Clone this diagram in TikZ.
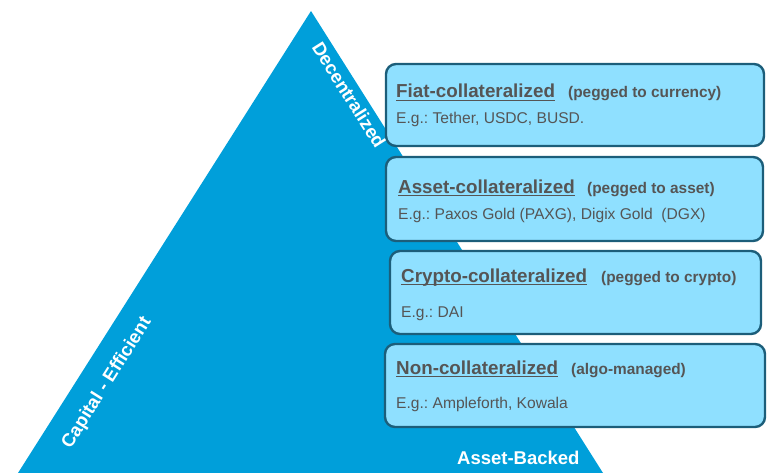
\documentclass[tikz,border=0pt]{standalone}
\usepackage{fontspec}
\setmainfont{Liberation Sans}
\frenchspacing
\definecolor{triblue}{HTML}{009FDA}
\definecolor{boxfill}{HTML}{8FE0FF}
\definecolor{boxline}{HTML}{1C5E7A}
\definecolor{txtgrey}{HTML}{555555}
\newcommand\myul[1]{{\setbox0\hbox{#1}\rlap{\rule[-3.4pt]{\wd0}{1.7pt}}\box0}}
\tikzset{
  tierbox/.style={draw=boxline, line width=2.4pt, fill=boxfill, rounded corners=10pt},
  title/.style={anchor=base west, inner sep=0pt, text=txtgrey, font=\fontsize{18.8}{21}\selectfont\bfseries},
  sub/.style={anchor=base west, inner sep=0pt, text=txtgrey, font=\fontsize{15.4}{18}\selectfont\bfseries},
  eg/.style={anchor=base west, inner sep=0pt, text=txtgrey, font=\fontsize{15.6}{18}\selectfont},
  wlabel/.style={inner sep=0pt, text=white, font=\fontsize{18.5}{21}\selectfont\bfseries}
}
\begin{document}
\frenchspacing
\begin{tikzpicture}[x=1pt,y=-1pt]
\useasboundingbox (0,0) rectangle (767,473);
\fill[triblue] (311,11) -- (603,473) -- (18,473) -- cycle;
% boxes
\draw[tierbox] (386,64) rectangle (764,146);
\draw[tierbox] (386,157) rectangle (763,241);
\draw[tierbox] (390,251) rectangle (761,334);
\draw[tierbox] (385,344) rectangle (765,427);
% box 1
\node[title] (t1) at (396,98) {\myul{Fiat-collateralized}};
\node[sub] (s1) at (568,98) {(pegged to currency)};
\node[eg] (e1) at (396,124) {E.g.: Tether, USDC, BUSD.};
% box 2
\node[title] (t2) at (398,193) {\myul{Asset-collateralized}};
\node[sub] (s2) at (587,193) {(pegged to asset)};
\node[eg] (e2) at (398,219) {E.g.: Paxos Gold (PAXG), Digix Gold\ \ (DGX)};
% box 3
\node[title] (t3) at (401,282) {\myul{Crypto-collateralized}};
\node[sub] (s3) at (601,282) {(pegged to crypto)};
\node[eg] (e3) at (401,317) {E.g.: DAI};
% box 4
\node[title] (t4) at (396,374) {\myul{Non-collateralized}};
\node[sub] (s4) at (571,374) {(algo-managed)};
\node[eg] (e4) at (396,408) {E.g.: Ampleforth, Kowala};
% triangle labels
\node[wlabel, anchor=base west] (ab) at (457,464) {Asset-Backed};
\node[wlabel, rotate=-57.7] (dec) at (349,95) {Decentralized};
\node[wlabel, rotate=57.7] (cap) at (107,383) {Capital - Efficient};
\end{tikzpicture}
\end{document}
